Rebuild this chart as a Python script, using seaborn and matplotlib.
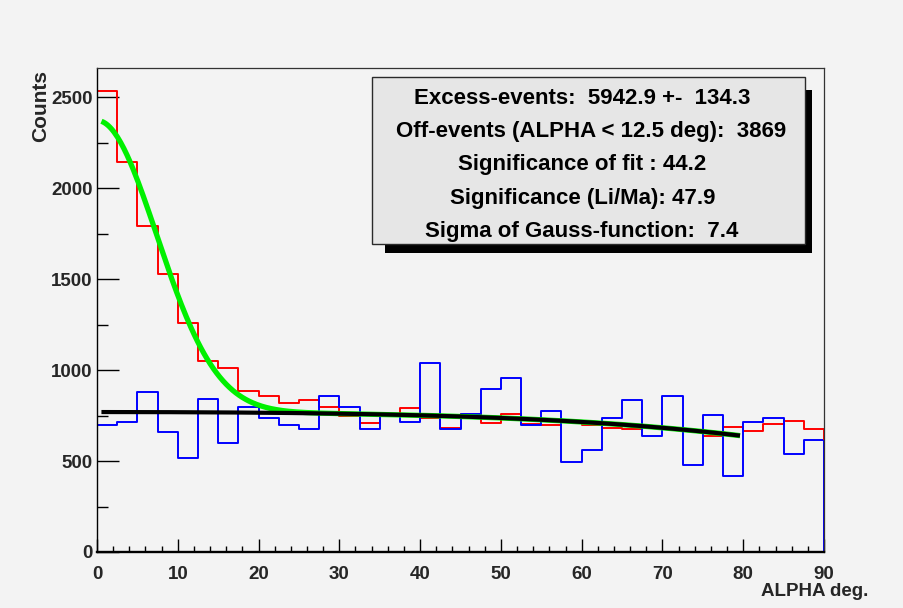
import numpy as np
import pandas as pd
import matplotlib
matplotlib.use("Agg")
import matplotlib.pyplot as plt
from matplotlib.ticker import MultipleLocator
from matplotlib.patches import Rectangle, Polygon
import seaborn as sns

# ALPHA histogram: 36 bins of 2.5 deg between 0 and 90 deg
alpha_min, alpha_max, bin_w = 0.0, 90.0, 2.5
on_counts = [2533, 2141, 1791, 1527, 1260, 1051, 1013, 885, 857, 820,
             835, 797, 746, 710, 755, 790, 736, 683, 756, 710,
             756, 701, 696, 720, 700, 681, 678, 689, 676, 670,
             637, 685, 667, 703, 722, 676]
off_counts = [696, 716, 879, 658, 518, 839, 597, 798, 738, 696,
              677, 859, 798, 676, 758, 716, 1037, 676, 756, 896,
              958, 696, 776, 496, 558, 736, 837, 637, 857, 476,
              754, 418, 716, 736, 538, 617]

# Fit results
excess_events = 5942.9
excess_error = 134.3
off_events = 3869
alpha_cut = 12.5
signif_fit = 44.2
signif_lima = 47.9
gauss_sigma = 7.4
bkg_p0, bkg_p2, bkg_p4 = 769.0, -0.0081, -1.95e-6
fit_range = (0.55, 79.6)

stats_lines = [
    f"Excess-events:  {excess_events} +-  {excess_error}",
    f"Off-events (ALPHA < {alpha_cut} deg):  {off_events}",
    f"Significance of fit : {signif_fit}",
    f"Significance (Li/Ma): {signif_lima}",
    f"Sigma of Gauss-function:  {gauss_sigma}",
]

bin_edges = np.arange(alpha_min, alpha_max + bin_w / 2, bin_w)
centers = 0.5 * (bin_edges[:-1] + bin_edges[1:])
hist_df = pd.DataFrame({"alpha": centers, "on": on_counts, "off": off_counts})

# Gaussian (half-Gaussian area = excess) on top of polynomial background
gauss_amp = excess_events * bin_w * 2 / (gauss_sigma * np.sqrt(2 * np.pi))
xf = np.linspace(fit_range[0], fit_range[1], 400)
bkg = bkg_p0 + bkg_p2 * xf**2 + bkg_p4 * xf**4
total = bkg + gauss_amp * np.exp(-xf**2 / (2 * gauss_sigma**2))
fit_df = pd.DataFrame({"alpha": xf, "bkg": bkg, "total": total})

sns.set_theme(style="ticks")
plt.rcParams["font.family"] = ["Liberation Sans", "DejaVu Sans"]
plt.rcParams["font.weight"] = "bold"

W, H = 904, 608
bg = "#f3f3f3"
fig = plt.figure(figsize=(W / 100, H / 100), dpi=100, facecolor=bg)
ax = fig.add_axes([97 / W, 1 - 552 / H, 727 / W, (552 - 67.7) / H])
ax.set_facecolor(bg)

sns.histplot(data=hist_df, x="alpha", weights="on", binwidth=bin_w,
             binrange=(alpha_min, alpha_max), element="step", fill=False,
             color="#ff0000", linewidth=1.4, ax=ax)
sns.histplot(data=hist_df, x="alpha", weights="off", binwidth=bin_w,
             binrange=(alpha_min, alpha_max), element="step", fill=False,
             color="#0000ff", linewidth=1.4, ax=ax)
# closing verticals of the histogram outlines
for cnt, col in ((on_counts, "#ff0000"), (off_counts, "#0000ff")):
    ax.vlines([bin_edges[0], bin_edges[-1]], 0, [cnt[0], cnt[-1]],
              color=col, linewidth=1.4)

sns.lineplot(data=fit_df, x="alpha", y="total", color="#00f000",
             linewidth=3.8, ax=ax, solid_capstyle="butt")
sns.lineplot(data=fit_df, x="alpha", y="bkg", color="#000000",
             linewidth=3.0, ax=ax, solid_capstyle="butt")

ax.set_xlim(alpha_min, alpha_max)
ax.set_ylim(0, 2661)
ax.xaxis.set_major_locator(MultipleLocator(10))
ax.xaxis.set_minor_locator(MultipleLocator(2))
ax.yaxis.set_major_locator(MultipleLocator(500))
ax.yaxis.set_minor_locator(MultipleLocator(250))
ax.tick_params(axis="x", which="major", direction="in", length=9.6, width=1,
               color="black", labelsize=13.5, pad=10)
ax.tick_params(axis="x", which="minor", direction="in", length=4.4, width=1,
               color="black")
ax.tick_params(axis="y", which="major", direction="in", length=15.6, width=1,
               color="black", labelsize=13.5, pad=3)
ax.tick_params(axis="y", which="minor", direction="in", length=7.7, width=1,
               color="black")
for lab in ax.get_xticklabels() + ax.get_yticklabels():
    lab.set_fontweight("bold")

for side in ("top", "right"):
    ax.spines[side].set_color("#333333")
    ax.spines[side].set_linewidth(0.9)
ax.spines["left"].set_color("black")
ax.spines["left"].set_linewidth(1.0)
ax.spines["bottom"].set_color("black")
ax.spines["bottom"].set_linewidth(1.7)

ax.set_xlabel("ALPHA deg.", fontsize=13.5, fontweight="bold", ha="right", va="top")
ax.xaxis.set_label_coords((868 - 97) / 727, (552 - 583) / 484.3)
ylab = ax.set_ylabel("Counts", fontsize=15, fontweight="bold")
ylab.set_rotation_mode("anchor")
ylab.set_horizontalalignment("right")
ylab.set_verticalalignment("center")
ax.yaxis.set_label_coords((41 - 97) / 727, (552 - 70) / 484.3)


def fx(px):
    return px / W


def fy(py):
    return 1 - py / H


# statistics box with drop shadow
shadow = Polygon([(fx(805), fy(90)), (fx(812), fy(90)), (fx(812), fy(253)),
                  (fx(385), fy(253)), (fx(385), fy(244)), (fx(805), fy(244))],
                 closed=True, transform=fig.transFigure, facecolor="black",
                 edgecolor="none", zorder=5)
fig.patches.append(shadow)
box = Rectangle((fx(372), fy(244)), fx(805) - fx(372), fy(77) - fy(244),
                transform=fig.transFigure, facecolor="#e6e6e6",
                edgecolor="#2a2a2a", linewidth=1.0, zorder=6)
fig.patches.append(box)

line_x = [582, 591, 582, 583, 582]
line_y = [98.3, 131.7, 165.0, 198.3, 231.7]
for txt, lx, ly in zip(stats_lines, line_x, line_y):
    fig.text(fx(lx), fy(ly), txt, ha="center", va="center", fontsize=16,
             fontweight="bold", color="black", zorder=7)

fig.savefig("out.png", dpi=100, facecolor=bg)
